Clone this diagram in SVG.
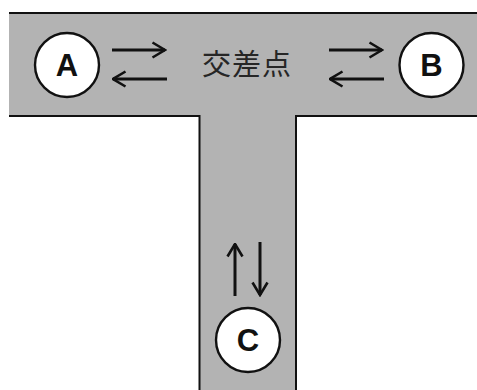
<svg xmlns="http://www.w3.org/2000/svg" width="477" height="390" viewBox="0 0 477 390">
  <defs>
    <marker id="head" viewBox="0 0 16 18" refX="14.5" refY="9" markerWidth="16" markerHeight="18" markerUnits="userSpaceOnUse" orient="auto">
      <path d="M2,1.5 L14.5,9 L2,16.5" fill="none" stroke="#111" stroke-width="2.6" stroke-linejoin="miter"/>
    </marker>
  </defs>
  <style>
    .road { fill: #b3b3b3; stroke: none; }
    .edge { fill: none; stroke: #111; stroke-width: 2; }
    .node circle { fill: #fff; stroke: #111; stroke-width: 2.4; }
    .node text { font-family: "Liberation Sans", Arial, sans-serif; font-weight: bold; font-size: 31px; fill: #111; text-anchor: middle; }
    .flow line { stroke: #111; stroke-width: 3; marker-end: url(#head); }
    .label { font-family: "Noto Sans CJK JP", "Noto Sans CJK SC", sans-serif; font-weight: normal; font-size: 29px; fill: #262626; text-anchor: middle; letter-spacing: 1px; }
  </style>

  <rect width="477" height="390" fill="#fff"/>

  <!-- T-shaped road surface -->
  <g id="road">
    <rect class="road" x="9" y="13" width="470" height="103"/>
    <rect class="road" x="199.5" y="110" width="96.5" height="282"/>
    <path class="edge" d="M479,13 H9 M9,116 H199.5 V392 M296,392 V116 H479"/>
  </g>

  <text class="label" x="247" y="75">交差点</text>

  <!-- traffic directions -->
  <g id="connectors" class="flow">
    <line x1="112" y1="50" x2="165" y2="50"/>
    <line x1="167" y1="79" x2="113" y2="79"/>
    <line x1="329" y1="50" x2="382" y2="50"/>
    <line x1="384" y1="79" x2="330" y2="79"/>
    <line x1="235" y1="296" x2="235" y2="244"/>
    <line x1="260" y1="242" x2="260" y2="295"/>
  </g>

  <g id="node-A" class="node">
    <circle cx="67" cy="65" r="32"/>
    <text x="67" y="76">A</text>
  </g>
  <g id="node-B" class="node">
    <circle cx="431.5" cy="65" r="32"/>
    <text x="431.5" y="76">B</text>
  </g>
  <g id="node-C" class="node">
    <circle cx="248" cy="340" r="32"/>
    <text x="248" y="351">C</text>
  </g>
</svg>
